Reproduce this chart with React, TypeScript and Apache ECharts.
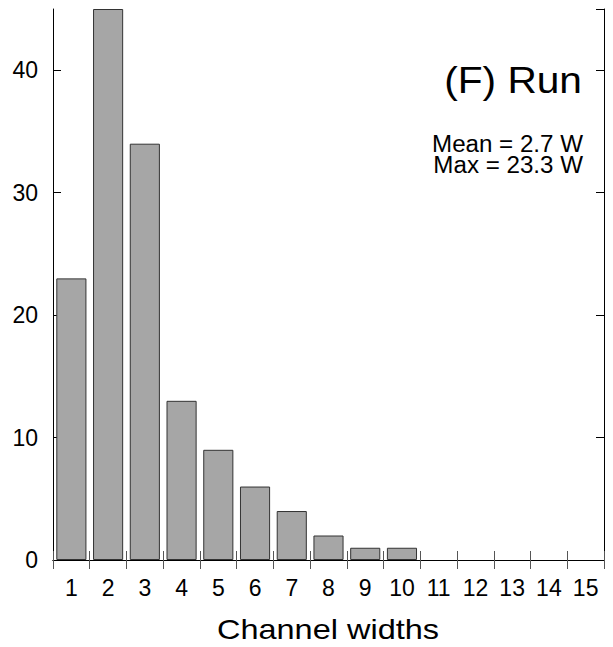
import React, { useEffect, useRef } from "react";
import * as echarts from "echarts";

// Histogram of channel widths for the "Run" condition
const widths = ["1", "2", "3", "4", "5", "6", "7", "8", "9", "10", "11", "12", "13", "14", "15"];
const counts = [23, 45, 34, 13, 9, 6, 4, 2, 1, 1, 0, 0, 0, 0, 0];
const panelTitle = "(F) Run";
const statLines = ["Mean = 2.7 W", "Max = 23.3 W"];
const xTitle = "Channel widths";

const FONT = "Liberation Sans, Arial, Helvetica, sans-serif";

export default function App() {
  const ref = useRef<HTMLDivElement>(null);

  useEffect(() => {
    if (!ref.current) return;
    const chart = echarts.init(ref.current, undefined, { renderer: "svg" });

    const tickX = { show: true, inside: true, length: 9, lineStyle: { color: "#555", width: 1 } };
    const tickY = { show: true, inside: true, length: 8, lineStyle: { color: "#000", width: 1 } };
    const line = { show: true, lineStyle: { color: "#000", width: 1 } };

    // empty bins get no outline, so nothing is drawn on the baseline
    const barData = counts.map((v) => ({
      value: v,
      itemStyle: { borderWidth: v > 0 ? 1 : 0 },
    }));

    chart.setOption({
      animation: false,
      backgroundColor: "#fff",
      grid: { left: 53, right: 9, top: 9, bottom: 87, containLabel: false },
      xAxis: [
        {
          type: "category",
          data: widths,
          position: "bottom",
          boundaryGap: true,
          axisLine: line,
          axisTick: tickX,
          axisLabel: { color: "#000", fontSize: 23, fontFamily: FONT, margin: 16, interval: 0 },
          splitLine: { show: false },
        },
        {
          type: "category",
          data: widths,
          position: "top",
          boundaryGap: true,
          axisLine: line,
          axisTick: tickX,
          axisLabel: { show: false },
          splitLine: { show: false },
        },
      ],
      yAxis: [
        {
          type: "value",
          min: 0,
          max: 45,
          interval: 10,
          position: "left",
          axisLine: line,
          axisTick: tickY,
          axisLabel: { color: "#000", fontSize: 23, fontFamily: FONT, margin: 15, showMaxLabel: false },
          splitLine: { show: false },
        },
        {
          type: "value",
          min: 0,
          max: 45,
          interval: 10,
          position: "right",
          axisLine: line,
          axisTick: tickY,
          axisLabel: { show: false },
          splitLine: { show: false },
        },
      ],
      series: [
        {
          type: "bar",
          data: barData,
          xAxisIndex: 0,
          yAxisIndex: 0,
          barCategoryGap: "18%",
          itemStyle: { color: "#a6a6a6", borderColor: "#333", borderWidth: 1 },
          clip: true,
        },
      ],
      graphic: [
        {
          type: "text",
          x: 582,
          y: 80,
          scaleX: 1.13,
          style: {
            text: panelTitle,
            fontSize: 36,
            fontFamily: FONT,
            fill: "#000",
            align: "right",
            verticalAlign: "middle",
          },
        },
        ...statLines.map((t, i) => ({
          type: "text",
          x: 583,
          y: 144 + i * 21,
          scaleX: 1.05,
          style: {
            text: t,
            fontSize: 23,
            fontFamily: FONT,
            fill: "#000",
            align: "right",
            verticalAlign: "middle",
          },
        })),
        {
          type: "text",
          x: 328,
          y: 629,
          scaleX: 1.16,
          style: {
            text: xTitle,
            fontSize: 28,
            fontFamily: FONT,
            fill: "#000",
            align: "center",
            verticalAlign: "middle",
          },
        },
      ],
    });

    return () => chart.dispose();
  }, []);

  return <div ref={ref} style={{ width: 613, height: 647, position: "absolute", left: 0, top: 0 }} />;
}
